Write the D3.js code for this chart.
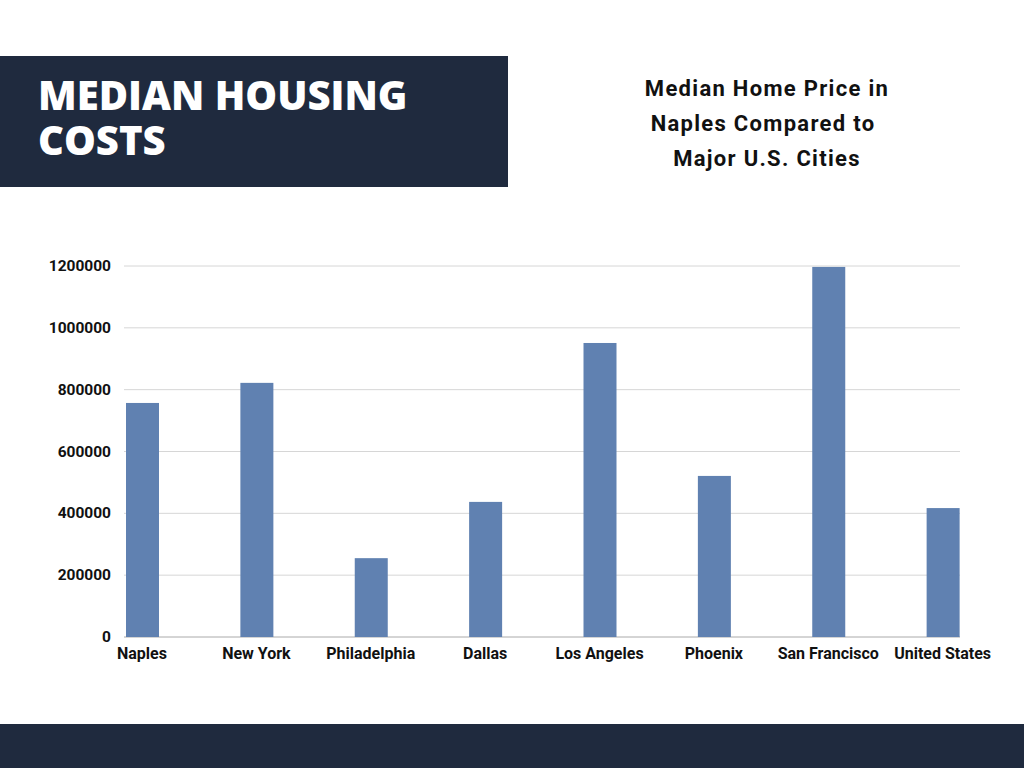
<!DOCTYPE html>
<html><head><meta charset="utf-8">
<script src="https://cdn.jsdelivr.net/npm/d3@7"></script>
<style>body{margin:0;background:#fff}</style>
</head><body>
<script>
const cities = ["Naples","New York","Philadelphia","Dallas","Los Angeles","Phoenix","San Francisco","United States"];
const prices = [757000,822000,255000,437000,951000,521000,1197000,417000];
const yTicks = [0,200000,400000,600000,800000,1000000,1200000];

const svg = d3.select("body").append("svg").attr("width",1024).attr("height",768);
const navy = "#1f2a3e";

svg.append("rect").attr("x",0).attr("y",56).attr("width",508).attr("height",131).attr("fill",navy);
svg.append("rect").attr("x",0).attr("y",724).attr("width",1024).attr("height",44).attr("fill",navy);
svg.append("text").attr("x",38).attr("y",110).attr("fill","#fff")
  .style("font","800 40px 'Open Sans'").text("MEDIAN HOUSING");
svg.append("text").attr("x",38).attr("y",155).attr("fill","#fff")
  .style("font","800 40px 'Open Sans'").text("COSTS");

const sub = ["Median Home Price in","Naples Compared to","Major U.S. Cities"];
svg.selectAll(".sub").data(sub).join("text")
  .attr("x",(d,i)=>[767,763,767][i]).attr("y",(d,i)=>96+i*35).attr("text-anchor","middle")
  .style("font","bold 22px Roboto").style("letter-spacing","1.3px").attr("fill","#111").text(d=>d);

const x = d3.scaleBand().domain(cities).range([126,1041]);
const y = d3.scaleLinear().domain([0,1200000]).range([637,266]);

svg.append("g").selectAll("line").data(yTicks).join("line")
  .attr("x1",124).attr("x2",960).attr("y1",d=>y(d)).attr("y2",d=>y(d))
  .attr("stroke",d=>d===0?"#aaa":"#d6d6d6");
svg.append("g").selectAll("text").data(yTicks).join("text")
  .attr("x",111).attr("y",d=>y(d)+5).attr("text-anchor","end")
  .style("font","bold 15.5px Roboto").attr("fill","#111").text(d=>d);

svg.append("g").selectAll("rect").data(prices).join("rect")
  .attr("x",(d,i)=>x(cities[i])).attr("width",33)
  .attr("y",d=>y(d)).attr("height",d=>y(0)-y(d)).attr("fill","#6081b1");
svg.append("g").selectAll("text").data(cities).join("text")
  .attr("x",d=>x(d)+16).attr("y",659).attr("text-anchor","middle")
  .style("font","bold 16px Roboto").attr("fill","#111").text(d=>d);
</script>
</body></html>
